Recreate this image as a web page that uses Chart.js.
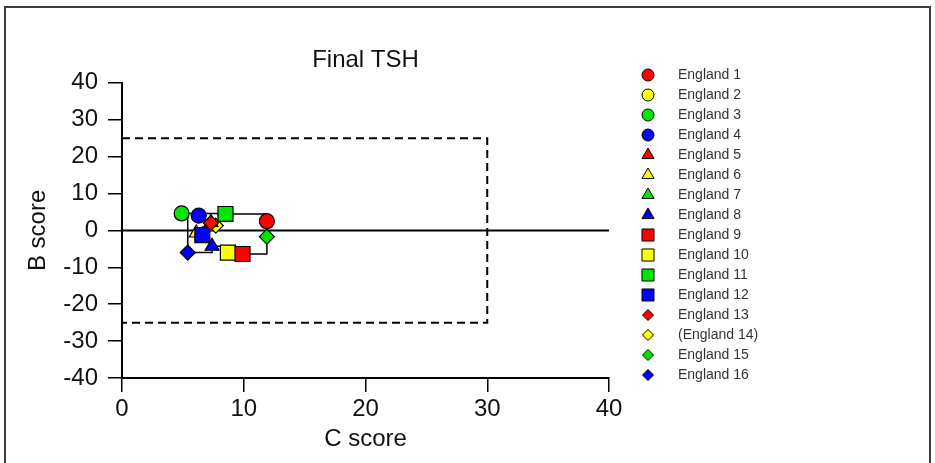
<!DOCTYPE html>
<html>
<head>
<meta charset="utf-8">
<title>Final TSH</title>
<script src="https://cdn.jsdelivr.net/npm/chart.js@4.4.1/dist/chart.umd.min.js"></script>
<style>
  html, body { margin: 0; padding: 0; background: #fff; }
  #wrap { position: relative; width: 935px; height: 463px; overflow: hidden; }
  #frame { position: absolute; left: 4px; top: 6px; width: 923px; height: 470px; border: 2px solid #3c3c3c; }
  #tsh { position: absolute; left: 0; top: 0; }
</style>
</head>
<body>
<div id="wrap">
  <div id="frame"></div>
  <canvas id="tsh" width="935" height="463"></canvas>
</div>
<script>
// --- data ---
const centres = ['England 1', 'England 2', 'England 3', 'England 4', 'England 5', 'England 6',
  'England 7', 'England 8', 'England 9', 'England 10', 'England 11', 'England 12',
  'England 13', '(England 14)', 'England 15', 'England 16'];
const cScores = [11.9, 8.5, 4.9, 6.3, 7.3, 6.1, 6.6, 7.4, 9.9, 8.7, 8.5, 6.6, 7.3, 7.7, 11.9, 5.4];
const bScores = [2.5, 4.4, 4.6, 4.0, 2.2, -0.7, -1.2, -4.3, -6.4, -6.0, 4.45, -1.3, 2.0, 1.3, -1.7, -6.0];

// centres joined by the outline (England numbers)
const outlineTop = [3, 11, 1, 15];
const outlineBottom = [3, 16, 8, 10, 9, 15];

// acceptance box and axis ticks
const cLimit = 30;
const bLimit = 25;
const cTicks = [0, 10, 20, 30, 40];
const bTicks = [-40, -30, -20, -10, 0, 10, 20, 30, 40];

// --- styles ---
const palette = ['#ff0000', '#ffff00', '#00e600', '#0000ff'];
const shapeSet = ['circle', 'triangle', 'rect', 'rectRot'];
const plotRadius = { circle: 7.5, triangle: 8, rect: 10.6, rectRot: 7.5 };
const keyRadius = { circle: 6, triangle: 7, rect: 8.5, rectRot: 5.5 };
const drawnUnder = [2, 5, 6, 7, 14];

const FONT = '"Liberation Sans", Arial, sans-serif';

const pointSets = centres.map((name, i) => {
  const shape = shapeSet[Math.floor(i / 4)];
  return {
    label: name,
    data: [{ x: cScores[i], y: bScores[i] }],
    showLine: false,
    pointStyle: shape,
    pointRadius: plotRadius[shape],
    pointHoverRadius: plotRadius[shape],
    pointBackgroundColor: palette[i % 4],
    pointBorderColor: '#000',
    pointBorderWidth: 1.2,
    order: drawnUnder.includes(i + 1) ? 5 : (i === 12 ? -1 : 0)
  };
});

function pathFor(ids) {
  return ids.map(n => ({ x: cScores[n - 1], y: bScores[n - 1] }));
}

const lineStyle = {
  showLine: true,
  fill: false,
  pointRadius: 0,
  pointHoverRadius: 0,
  borderColor: '#000',
  order: 10
};

const lineSets = [
  { ...lineStyle, label: 'outline-top', data: pathFor(outlineTop), stepped: 'before', borderWidth: 1.5 },
  { ...lineStyle, label: 'outline-bottom', data: pathFor(outlineBottom), stepped: 'before', borderWidth: 1.5 },
  { ...lineStyle, label: 'zero', data: [{ x: cTicks[0], y: 0 }, { x: cTicks[cTicks.length - 1], y: 0 }], borderWidth: 2 },
  {
    ...lineStyle, label: 'limits', borderWidth: 2, borderDash: [8, 5],
    data: [{ x: 0, y: bLimit }, { x: cLimit, y: bLimit }, { x: cLimit, y: -bLimit }, { x: 0, y: -bLimit }]
  }
];

// key drawn down the right-hand side
const sideLegend = {
  id: 'sideLegend',
  afterDraw(chart) {
    const ctx = chart.ctx;
    ctx.save();
    ctx.font = '14px ' + FONT;
    ctx.textBaseline = 'middle';
    centres.forEach((name, i) => {
      const shape = shapeSet[Math.floor(i / 4)];
      const y = 75 + i * 20;
      ctx.fillStyle = palette[i % 4];
      ctx.strokeStyle = '#000';
      ctx.lineWidth = 1;
      Chart.helpers.drawPoint(ctx, { pointStyle: shape, radius: keyRadius[shape], borderWidth: 1, rotation: 0 }, 648, y);
      ctx.fillStyle = '#333';
      ctx.fillText(name, 678, y);
    });
    ctx.restore();
  }
};

const axisGrid = { drawOnChartArea: false, drawTicks: true, tickLength: 14, color: '#000', lineWidth: 1.5 };
const axisBorder = { display: true, color: '#000', width: 2 };
const labelFont = { family: FONT, size: 24 };

new Chart(document.getElementById('tsh'), {
  type: 'scatter',
  data: { datasets: [...pointSets, ...lineSets] },
  options: {
    responsive: false,
    animation: false,
    events: [],
    layout: { padding: { left: 0, right: 326, top: 0, bottom: 0 } },
    plugins: {
      legend: { display: false },
      tooltip: { enabled: false },
      title: {
        display: true,
        text: 'Final TSH',
        fullSize: false,
        color: '#111',
        font: { family: FONT, size: 24, weight: 'normal' },
        padding: { top: 46, bottom: 8 }
      }
    },
    scales: {
      x: {
        type: 'linear',
        min: cTicks[0],
        max: cTicks[cTicks.length - 1],
        afterFit: s => { s.height = 85; },
        ticks: { stepSize: 10, padding: 3, color: '#111', font: labelFont },
        grid: axisGrid,
        border: axisBorder,
        title: { display: true, text: 'C score', color: '#111', font: labelFont, padding: { top: 0, bottom: 9 } }
      },
      y: {
        type: 'linear',
        min: bTicks[0],
        max: bTicks[bTicks.length - 1],
        afterFit: s => { s.width = 122; },
        ticks: { stepSize: 10, padding: 10, autoSkip: false, color: '#111', font: labelFont },
        grid: axisGrid,
        border: axisBorder,
        title: { display: true, text: 'B score', color: '#111', font: labelFont, padding: { top: 24, bottom: 0 } }
      }
    }
  },
  plugins: [sideLegend]
});
</script>
</body>
</html>
